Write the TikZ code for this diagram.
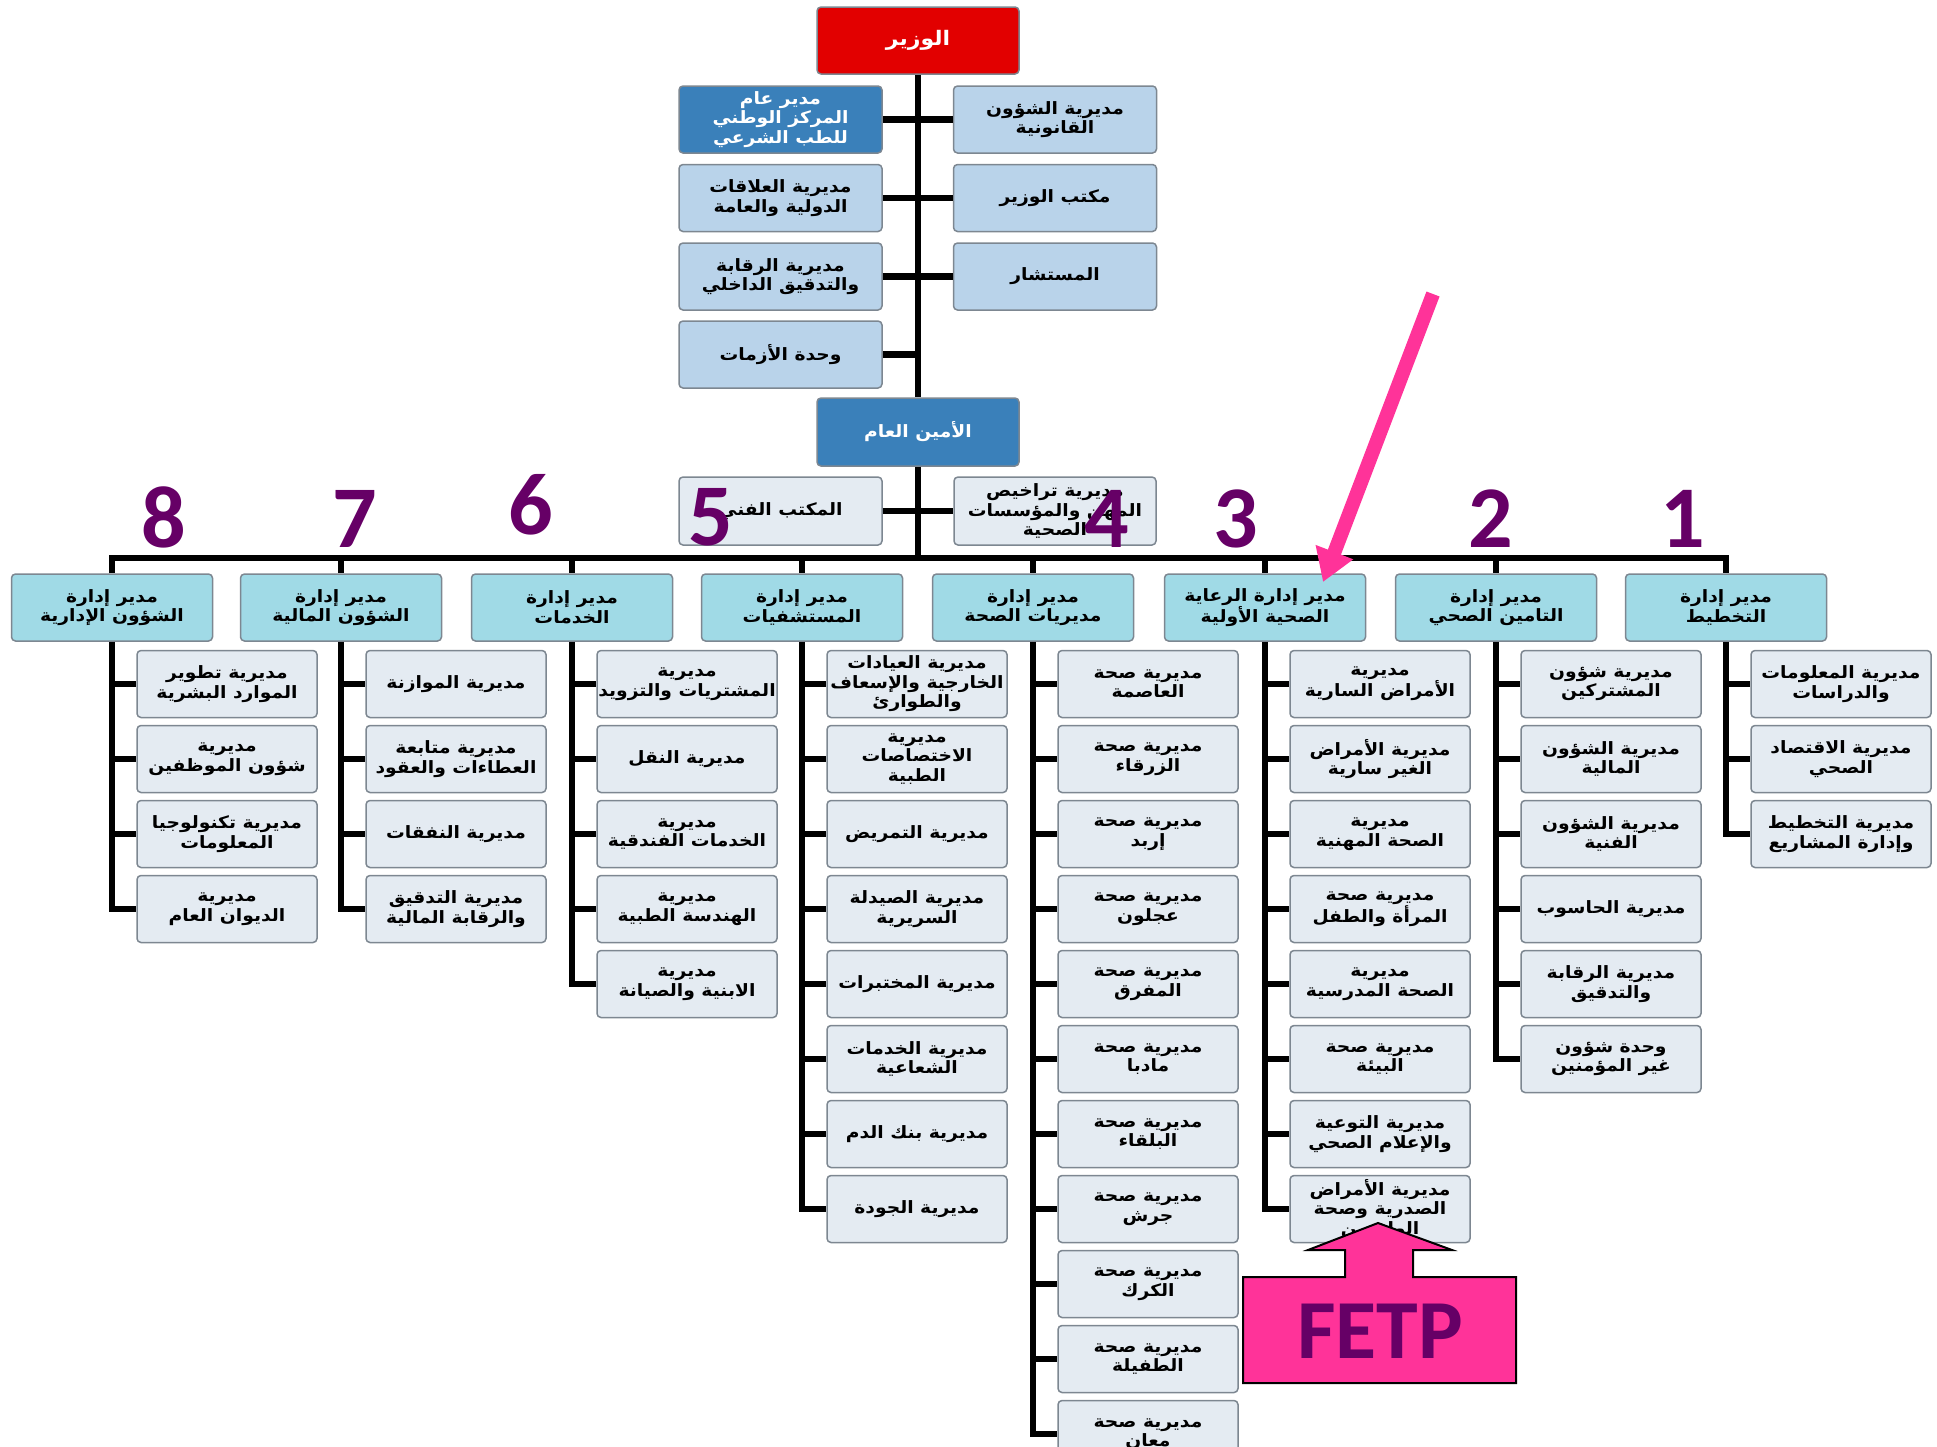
\documentclass[tikz,border=0pt]{standalone}
\usepackage{fontspec}
\usetikzlibrary{arrows.meta}
\newfontfamily\arabicfont[Script=Arabic,FakeStretch=1.1]{DejaVu Sans}
\newfontfamily\numfont{Carlito}
\TeXXeTstate=1
\newcommand\AR[1]{\beginR #1\endR}
\definecolor{minred}{RGB}{226,0,0}
\definecolor{darkbl}{RGB}{58,128,186}
\definecolor{sidebl}{RGB}{185,211,234}
\definecolor{hdrcy}{RGB}{160,218,230}
\definecolor{kidgr}{RGB}{228,235,242}
\definecolor{bordgr}{RGB}{125,135,145}
\definecolor{hotpink}{RGB}{255,51,153}
\definecolor{numpurple}{RGB}{102,0,102}
\tikzset{
  box/.style={rectangle, rounded corners=4pt, draw=bordgr, line width=1.5pt, align=center,
    inner sep=1pt, font={\arabicfont\bfseries\fontsize{17}{19.5}\selectfont}},
  topbox/.style={box, fill=sidebl, minimum width=203, minimum height=67},
  darkbox/.style={box, fill=darkbl, text=white, minimum width=203, minimum height=67},
  redbox/.style={box, fill=minred, text=white, minimum width=202, minimum height=67,
    font={\arabicfont\bfseries\fontsize{20}{22}\selectfont}},
  hdrbox/.style={box, fill=hdrcy, minimum width=201, minimum height=67},
  kidbox/.style={box, fill=kidgr, minimum width=180, minimum height=67},
  conn/.style={line width=6.5pt, black},
  num/.style={text=numpurple, font={\numfont\bfseries\fontsize{88}{88}\selectfont}, inner sep=0pt, anchor=base},
}
\newcommand\kid[4]{\node[kidbox] (#1) at ({#2+115},{#3}) {#4};}
\begin{document}
\begin{tikzpicture}[x=1pt,y=-1pt]
\useasboundingbox (0,0) rectangle (1937,1446);
\clip (0,0) rectangle (1937,1446);
% ---------- top part
\node[redbox] (min) at (918,40.5) {\AR{الوزير}};
\node[darkbox] (l1) at (780.5,119.5) {\AR{مدير عام}\\\AR{المركز الوطني}\\\AR{للطب الشرعي}};
\node[topbox] (l2) at (780.5,198) {\AR{مديرية العلاقات}\\\AR{الدولية والعامة}};
\node[topbox] (l3) at (780.5,276.5) {\AR{مديرية الرقابة}\\\AR{والتدقيق الداخلي}};
\node[topbox] (l4) at (780.5,354.5) {\AR{وحدة الأزمات}};
\node[topbox] (r1) at (1055,119.5) {\AR{مديرية الشؤون}\\\AR{القانونية}};
\node[topbox] (r2) at (1055,198) {\AR{مكتب الوزير}};
\node[topbox] (r3) at (1055,276.5) {\AR{المستشار}};
\node[darkbox, minimum width=202, minimum height=68] (sg) at (918,432) {\AR{الأمين العام}};
\node[kidbox, minimum width=203, minimum height=68] (tech) at (780.5,511) {\AR{المكتب الفني}};
\node[kidbox, minimum width=202, minimum height=68] (lic) at (1055,511) {\AR{مديرية تراخيص}\\\AR{المهن والمؤسسات}\\\AR{الصحية}};
\coordinate (bus) at (918,558);
\draw[conn] (min.south) -- (sg.north);
\draw[conn] (sg.south) -- (bus);
\draw[conn] (l1.east) -- (r1.west);
\draw[conn] (l2.east) -- (r2.west);
\draw[conn] (l3.east) -- (r3.west);
\draw[conn] (l4.east) -- (min.south |- l4.east);
\draw[conn] (tech.east) -- (lic.west);
% ---------- headers
\node[hdrbox] (h1) at (1726,607.5) {\AR{مدير إدارة}\\\AR{التخطيط}};
\node[hdrbox] (h2) at (1496,607.5) {\AR{مدير إدارة}\\\AR{التامين الصحي}};
\node[hdrbox] (h3) at (1265,607.5) {\AR{مدير إدارة الرعاية}\\\AR{الصحية الأولية}};
\node[hdrbox] (h4) at (1033,607.5) {\AR{مدير إدارة}\\\AR{مديريات الصحة}};
\node[hdrbox] (h5) at (802,607.5) {\AR{مدير إدارة}\\\AR{المستشفيات}};
\node[hdrbox] (h6) at (572,607.5) {\AR{مدير إدارة}\\\AR{الخدمات}};
\node[hdrbox] (h7) at (341,607.5) {\AR{مدير إدارة}\\\AR{الشؤون المالية}};
\node[hdrbox] (h8) at (112,607.5) {\AR{مدير إدارة}\\\AR{الشؤون الإدارية}};
\draw[conn] (h8.north) -- (h8.north |- bus) -- (h1.north |- bus) -- (h1.north);
\foreach \h in {h2,h3,h4,h5,h6,h7} \draw[conn] (\h.north |- bus) -- (\h.north);
% ---------- column 1
\kid{k1-1}{1726}{684}{\AR{مديرية المعلومات}\\\AR{والدراسات}}
\kid{k1-2}{1726}{759}{\AR{مديرية الاقتصاد}\\\AR{الصحي}}
\kid{k1-3}{1726}{834}{\AR{مديرية التخطيط}\\\AR{وإدارة المشاريع}}
% ---------- column 2
\kid{k2-1}{1496}{684}{\AR{مديرية شؤون}\\\AR{المشتركين}}
\kid{k2-2}{1496}{759}{\AR{مديرية الشؤون}\\\AR{المالية}}
\kid{k2-3}{1496}{834}{\AR{مديرية الشؤون}\\\AR{الفنية}}
\kid{k2-4}{1496}{909}{\AR{مديرية الحاسوب}}
\kid{k2-5}{1496}{984}{\AR{مديرية الرقابة}\\\AR{والتدقيق}}
\kid{k2-6}{1496}{1059}{\AR{وحدة شؤون}\\\AR{غير المؤمنين}}
% ---------- column 3
\kid{k3-1}{1265}{684}{\AR{مديرية}\\\AR{الأمراض السارية}}
\kid{k3-2}{1265}{759}{\AR{مديرية الأمراض}\\\AR{الغير سارية}}
\kid{k3-3}{1265}{834}{\AR{مديرية}\\\AR{الصحة المهنية}}
\kid{k3-4}{1265}{909}{\AR{مديرية صحة}\\\AR{المرأة والطفل}}
\kid{k3-5}{1265}{984}{\AR{مديرية}\\\AR{الصحة المدرسية}}
\kid{k3-6}{1265}{1059}{\AR{مديرية صحة}\\\AR{البيئة}}
\kid{k3-7}{1265}{1134}{\AR{مديرية التوعية}\\\AR{والإعلام الصحي}}
\kid{k3-8}{1265}{1209}{\AR{مديرية الأمراض}\\\AR{الصدرية وصحة}\\\AR{الوافدين}}
% ---------- column 4
\kid{k4-1}{1033}{684}{\AR{مديرية صحة}\\\AR{العاصمة}}
\kid{k4-2}{1033}{759}{\AR{مديرية صحة}\\\AR{الزرقاء}}
\kid{k4-3}{1033}{834}{\AR{مديرية صحة}\\\AR{إربد}}
\kid{k4-4}{1033}{909}{\AR{مديرية صحة}\\\AR{عجلون}}
\kid{k4-5}{1033}{984}{\AR{مديرية صحة}\\\AR{المفرق}}
\kid{k4-6}{1033}{1059}{\AR{مديرية صحة}\\\AR{مادبا}}
\kid{k4-7}{1033}{1134}{\AR{مديرية صحة}\\\AR{البلقاء}}
\kid{k4-8}{1033}{1209}{\AR{مديرية صحة}\\\AR{جرش}}
\kid{k4-9}{1033}{1284}{\AR{مديرية صحة}\\\AR{الكرك}}
\kid{k4-10}{1033}{1359}{\AR{مديرية صحة}\\\AR{الطفيلة}}
\kid{k4-11}{1033}{1434}{\AR{مديرية صحة}\\\AR{معان}}
% ---------- column 5
\kid{k5-1}{802}{684}{\AR{مديرية العيادات}\\\AR{الخارجية والإسعاف}\\\AR{والطوارئ}}
\kid{k5-2}{802}{759}{\AR{مديرية}\\\AR{الاختصاصات}\\\AR{الطبية}}
\kid{k5-3}{802}{834}{\AR{مديرية التمريض}}
\kid{k5-4}{802}{909}{\AR{مديرية الصيدلة}\\\AR{السريرية}}
\kid{k5-5}{802}{984}{\AR{مديرية المختبرات}}
\kid{k5-6}{802}{1059}{\AR{مديرية الخدمات}\\\AR{الشعاعية}}
\kid{k5-7}{802}{1134}{\AR{مديرية بنك الدم}}
\kid{k5-8}{802}{1209}{\AR{مديرية الجودة}}
% ---------- column 6
\kid{k6-1}{572}{684}{\AR{مديرية}\\\AR{المشتريات والتزويد}}
\kid{k6-2}{572}{759}{\AR{مديرية النقل}}
\kid{k6-3}{572}{834}{\AR{مديرية}\\\AR{الخدمات الفندقية}}
\kid{k6-4}{572}{909}{\AR{مديرية}\\\AR{الهندسة الطبية}}
\kid{k6-5}{572}{984}{\AR{مديرية}\\\AR{الابنية والصيانة}}
% ---------- column 7
\kid{k7-1}{341}{684}{\AR{مديرية الموازنة}}
\kid{k7-2}{341}{759}{\AR{مديرية متابعة}\\\AR{العطاءات والعقود}}
\kid{k7-3}{341}{834}{\AR{مديرية النفقات}}
\kid{k7-4}{341}{909}{\AR{مديرية التدقيق}\\\AR{والرقابة المالية}}
% ---------- column 8
\kid{k8-1}{112}{684}{\AR{مديرية تطوير}\\\AR{الموارد البشرية}}
\kid{k8-2}{112}{759}{\AR{مديرية}\\\AR{شؤون الموظفين}}
\kid{k8-3}{112}{834}{\AR{مديرية تكنولوجيا}\\\AR{المعلومات}}
\kid{k8-4}{112}{909}{\AR{مديرية}\\\AR{الديوان العام}}
% ---------- column trunks and connectors
\foreach \c/\n in {1/3,2/6,3/8,4/11,5/8,6/5,7/4,8/4}{
  \draw[conn] (h\c.south) -- (h\c.south |- k\c-\n.west) -- (k\c-\n.west);
  \pgfmathtruncatemacro\m{\n-1}
  \foreach \r in {1,...,\m} \draw[conn] (h\c.south |- k\c-\r.west) -- (k\c-\r.west);
}
% ---------- annotations
\coordinate (pa1) at (1433,294);
\coordinate (pa2) at (1323,582);
\draw[hotpink, line width=14pt, -{Triangle[length=32pt,width=38pt]}] (pa1) -- (pa2);
\draw[black, line width=2pt, fill=hotpink]
  (1243,1383) -- (1516,1383) -- (1516,1277) -- (1413,1277) -- (1413,1250) -- (1452,1250)
  -- (1378,1223) -- (1308,1250) -- (1345,1250) -- (1345,1277) -- (1243,1277) -- cycle;
\node[text=numpurple, font={\numfont\bfseries\fontsize{84}{84}\selectfont}, inner sep=0pt, anchor=base] (fetp) at (1380,1358) {FETP};
\node[num] (n8) at (164,547) {8};
\node[num] (n7) at (355,547) {7};
\node[num] (n6) at (531,534) {6};
\node[num] (n5) at (711,545) {5};
\node[num] (n4) at (1107,547) {4};
\node[num] (n3) at (1236,547) {3};
\node[num] (n2) at (1491,547) {2};
\node[num] (n1) at (1683,547) {1};
\end{tikzpicture}
\end{document}
